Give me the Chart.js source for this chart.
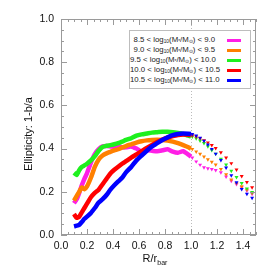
<!DOCTYPE html>
<html>
<head>
<meta charset="utf-8">
<script src="https://cdn.jsdelivr.net/npm/chart.js@4"></script>
<style>
  body { margin: 0; background: #fff; }
  #wrap { position: relative; width: 274px; height: 274px; }
  #legend {
    position: absolute; left: 129px; top: 30px; width: 120px; height: 57px;
    border: 1px solid #bdbdbd; background: #fff;
    font-family: "Liberation Sans", Arial, sans-serif; font-size: 7.8px; color: #222;
  }
  .row { position: absolute; left: 0; width: 85px; text-align: right; white-space: nowrap; line-height: 10px; }
  .row sub { font-size: 4.8px; vertical-align: -1px; }
  .swatch { position: absolute; left: 97px; width: 14px; height: 3px; }
</style>
</head>
<body>
<div id="wrap">
  <canvas id="chart" width="274" height="274"></canvas>
  <div id="legend"></div>
</div>
<script>
// series labels (legend), lowest mass bin first
const binLabels = [
    '8.5 &lt; log<sub>10</sub>(M<sub>*</sub>/M<sub>&#8857;</sub>) &lt; 9.0',
    '9.0 &lt; log<sub>10</sub>(M<sub>*</sub>/M<sub>&#8857;</sub>) &lt; 9.5',
    '9.5 &lt; log<sub>10</sub>(M<sub>*</sub>/M<sub>&#8857;</sub>) &lt; 10.0',
    '10.0 &lt; log<sub>10</sub>(M<sub>*</sub>/M<sub>&#8857;</sub>) &lt; 10.5',
    '10.5 &lt; log<sub>10</sub>(M<sub>*</sub>/M<sub>&#8857;</sub>) &lt; 11.0'
];
const binColors = ['#ff1ee6', '#ff8000', '#1ef01e', '#ff0000', '#0000ff'];

// R / r_bar sample radii (dense inside the bar, sparse outside)
const radii = [0.10, 0.12, 0.14, 0.16, 0.18, 0.20, 0.23, 0.26, 0.29, 0.32, 0.35, 0.38, 0.41, 0.44,
    0.47, 0.50, 0.54, 0.58, 0.62, 0.66, 0.70, 0.74, 0.78, 0.82, 0.86, 0.90, 0.94, 0.98, 1.00,
    1.01, 1.04, 1.07, 1.10, 1.13, 1.16, 1.19, 1.23, 1.27, 1.31, 1.35, 1.39, 1.43, 1.47];

// ellipticity 1-b/a per mass bin
const ellip85 = [0.147, 0.165, 0.195, 0.230, 0.260, 0.286, 0.335, 0.375, 0.398, 0.410, 0.412, 0.410, 0.408, 0.410,
    0.406, 0.406, 0.410, 0.400, 0.386, 0.392, 0.390, 0.388, 0.392, 0.397, 0.386, 0.381, 0.388, 0.372, 0.362,
    0.358, 0.340, 0.325, 0.313, 0.308, 0.305, 0.300, 0.290, 0.270, 0.250, 0.235, 0.220, 0.205, 0.190];
const ellip90 = [0.159, 0.180, 0.200, 0.220, 0.212, 0.225, 0.265, 0.315, 0.350, 0.368, 0.378, 0.385, 0.392, 0.397,
    0.405, 0.412, 0.420, 0.428, 0.434, 0.438, 0.440, 0.441, 0.440, 0.437, 0.432, 0.425, 0.416, 0.406, 0.400,
    0.398, 0.386, 0.375, 0.363, 0.350, 0.338, 0.326, 0.305, 0.280, 0.256, 0.240, 0.225, 0.210, 0.195];
const ellip95 = [0.288, 0.278, 0.300, 0.315, 0.322, 0.330, 0.345, 0.365, 0.390, 0.408, 0.413, 0.416, 0.420, 0.425,
    0.432, 0.440, 0.448, 0.460, 0.466, 0.470, 0.474, 0.476, 0.478, 0.478, 0.476, 0.472, 0.467, 0.460, 0.457,
    0.455, 0.447, 0.437, 0.425, 0.410, 0.393, 0.376, 0.352, 0.326, 0.297, 0.268, 0.240, 0.215, 0.198];
const ellip100 = [0.097, 0.080, 0.085, 0.105, 0.125, 0.145, 0.175, 0.195, 0.210, 0.235, 0.260, 0.285, 0.302, 0.316,
    0.330, 0.342, 0.358, 0.373, 0.388, 0.403, 0.417, 0.430, 0.442, 0.451, 0.458, 0.463, 0.465, 0.464, 0.462,
    0.461, 0.455, 0.447, 0.438, 0.428, 0.416, 0.402, 0.382, 0.358, 0.332, 0.302, 0.272, 0.245, 0.220];
const ellip105 = [0.040, 0.043, 0.047, 0.060, 0.075, 0.085, 0.102, 0.125, 0.150, 0.166, 0.185, 0.210, 0.230, 0.248,
    0.265, 0.290, 0.315, 0.345, 0.368, 0.390, 0.410, 0.425, 0.440, 0.452, 0.462, 0.468, 0.470, 0.469, 0.468,
    0.467, 0.460, 0.450, 0.436, 0.418, 0.398, 0.376, 0.346, 0.312, 0.276, 0.243, 0.212, 0.190, 0.172];

const xTicks = [0.0, 0.2, 0.4, 0.6, 0.8, 1.0, 1.2, 1.4];
const yTicks = [0.0, 0.2, 0.4, 0.6, 0.8, 1.0];
const barEdge = 1.0;

const series = [ellip85, ellip90, ellip95, ellip100, ellip105];

// legend box (html so the subscripts come out right)
const legendEl = document.getElementById('legend');
binLabels.forEach((lab, i) => {
    const top = 3.5 + i * 10.2;
    legendEl.insertAdjacentHTML('beforeend',
        `<div class="row" style="top:${top}px">${lab}</div>` +
        `<div class="swatch" style="top:${top + 4}px;background:${binColors[i]}"></div>`);
});

// frame, inward ticks, dotted r_bar line and the axis titles
const framePlugin = {
    id: 'frame',
    beforeDatasetsDraw(chart) {
        const { ctx, chartArea: a, scales: { x } } = chart;
        ctx.save();
        ctx.strokeStyle = '#bbbbbb';
        ctx.lineWidth = 1;
        ctx.setLineDash([1, 2]);
        const xb = Math.round(x.getPixelForValue(barEdge)) + 0.5;
        ctx.beginPath();
        ctx.moveTo(xb, a.top);
        ctx.lineTo(xb, a.bottom);
        ctx.stroke();
        ctx.restore();
    },
    afterDraw(chart) {
        const { ctx, chartArea: a, scales: { x, y } } = chart;
        ctx.save();
        ctx.strokeStyle = '#9a9a9a';
        ctx.lineWidth = 1;
        ctx.strokeRect(a.left + 0.5, a.top + 0.5, a.right - a.left - 1, a.bottom - a.top - 1);
        ctx.beginPath();
        for (let k = 0; k <= 30; k++) {
            const v = k * 0.05;
            const len = k % 4 === 0 ? 6 : 3;
            const px = Math.round(x.getPixelForValue(v)) + 0.5;
            ctx.moveTo(px, a.bottom); ctx.lineTo(px, a.bottom - len);
            ctx.moveTo(px, a.top); ctx.lineTo(px, a.top + len);
        }
        for (let k = 0; k <= 20; k++) {
            const v = k * 0.05;
            const len = k % 4 === 0 ? 6 : 3;
            const py = Math.round(y.getPixelForValue(v)) + 0.5;
            ctx.moveTo(a.left, py); ctx.lineTo(a.left + len, py);
            ctx.moveTo(a.right, py); ctx.lineTo(a.right - len, py);
        }
        ctx.stroke();

        // axis titles
        ctx.fillStyle = '#111';
        ctx.textBaseline = 'alphabetic';
        const main = 'R/r', sub = 'bar';
        ctx.font = '11px "Liberation Sans", Arial, sans-serif';
        const w1 = ctx.measureText(main).width;
        ctx.font = '7px "Liberation Sans", Arial, sans-serif';
        const w2 = ctx.measureText(sub).width;
        const x0 = 155 - (w1 + w2) / 2;
        ctx.font = '11px "Liberation Sans", Arial, sans-serif';
        ctx.fillText(main, x0, 262);
        ctx.font = '7px "Liberation Sans", Arial, sans-serif';
        ctx.fillText(sub, x0 + w1, 265);

        ctx.translate(32, 134);
        ctx.rotate(-Math.PI / 2);
        ctx.font = '11px "Liberation Sans", Arial, sans-serif';
        ctx.textAlign = 'center';
        ctx.fillText('Ellipticity: 1-b/a', 0, 0);
        ctx.restore();
    }
};

const tickFont = { family: '"Liberation Sans", Arial, sans-serif', size: 10.5 };

new Chart(document.getElementById('chart'), {
    type: 'line',
    data: {
        datasets: series.map((vals, i) => ({
            data: radii.map((r, j) => ({ x: r, y: vals[j] })),
            borderColor: binColors[i],
            backgroundColor: binColors[i],
            borderWidth: 4.5,
            fill: false,
            tension: 0.2,
            order: series.length - i,
            pointStyle: 'triangle',
            rotation: 180,
            pointRadius: ctx => (ctx.raw && ctx.raw.x > barEdge ? 2.3 : 0),
            pointBorderWidth: 0,
            segment: {
                borderColor: ctx => (ctx.p0.parsed.x >= barEdge ? 'rgba(0,0,0,0)' : undefined)
            }
        }))
    },
    options: {
        responsive: false,
        animation: false,
        layout: { padding: { left: 0, right: 18, top: 19, bottom: 0 } },
        plugins: { legend: { display: false }, tooltip: { enabled: false } },
        scales: {
            x: {
                type: 'linear', min: 0, max: 1.5,
                grid: { display: false, drawTicks: false },
                border: { display: false },
                afterFit: s => { s.height = 39; },
                afterBuildTicks: s => { s.ticks = xTicks.map(v => ({ value: v })); },
                ticks: { font: tickFont, color: '#111', padding: 5, maxRotation: 0,
                    callback: v => Number(v).toFixed(1) }
            },
            y: {
                type: 'linear', min: 0, max: 1.0,
                grid: { display: false, drawTicks: false },
                border: { display: false },
                afterFit: s => { s.width = 61; },
                afterBuildTicks: s => { s.ticks = yTicks.map(v => ({ value: v })); },
                ticks: { font: tickFont, color: '#111', padding: 7,
                    callback: v => Number(v).toFixed(1) }
            }
        }
    },
    plugins: [framePlugin]
});
</script>
</body>
</html>
